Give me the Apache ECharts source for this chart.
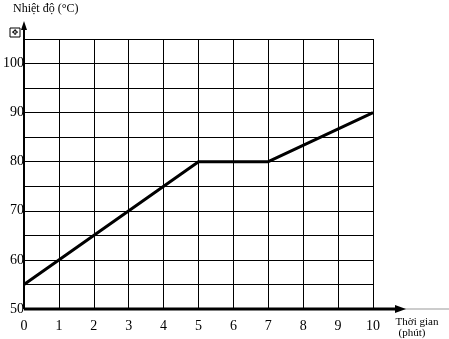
<!DOCTYPE html>
<html>
<head>
<meta charset="utf-8">
<script src="https://cdn.jsdelivr.net/npm/echarts@6/dist/echarts.min.js"></script>
<style>html,body{margin:0;padding:0;background:#fff}#c{width:449px;height:339px}</style>
</head>
<body>
<div id="c"></div>
<script>
const timeMinutes = [0, 5, 7, 10];
const temperatures = [55, 80, 80, 90];
const xTickLabels = ['0','1','2','3','4','5','6','7','8','9','10'];
const yTickLabels = ['50','60','70','80','90','100'];
const yAxisTitle = 'Nhiệt độ (°C)';
const xAxisTitle = ['Thời gian', '(phút)'];

const FONT = '"Liberation Serif", "Times New Roman", serif';
const chart = echarts.init(document.getElementById('c'), null, {renderer: 'canvas'});
const data = timeMinutes.map((t, i) => [t, temperatures[i]]);

chart.setOption({
  animation: false,
  backgroundColor: '#fff',
  grid: {left: 22, right: 76, top: 39, bottom: 30, containLabel: false},
  xAxis: {
    type: 'value', min: 0, max: 10, interval: 1,
    axisLine: {show: false}, axisTick: {show: false},
    axisLabel: {
      margin: 10, color: '#000', fontFamily: FONT, fontSize: 14,
      formatter: v => xTickLabels.includes(String(v)) ? String(v) : ''
    },
    splitLine: {show: true, lineStyle: {color: '#000', width: 1}}
  },
  yAxis: {
    type: 'value', min: 50, max: 105, interval: 5,
    axisLine: {show: false}, axisTick: {show: false},
    axisLabel: {
      margin: 0, color: '#000', fontFamily: FONT, fontSize: 14,
      formatter: v => yTickLabels.includes(String(v)) ? String(v) : ''
    },
    splitLine: {show: true, lineStyle: {color: '#000', width: 1}}
  },
  series: [{
    type: 'line', data: data, symbol: 'none',
    lineStyle: {color: '#000', width: 3}
  }]
});

const pO = chart.convertToPixel({gridIndex: 0}, [0, 50]);
const pTop = chart.convertToPixel({gridIndex: 0}, [0, 105]);
const pRight = chart.convertToPixel({gridIndex: 0}, [10, 50]);

chart.setOption({
  graphic: [
    {type: 'line', z: 100, shape: {x1: pRight[0] + 30, y1: pO[1], x2: 449, y2: pO[1]}, style: {stroke: '#999', lineWidth: 1}},
    {type: 'line', z: 100, shape: {x1: pO[0], y1: pO[1], x2: pRight[0] + 24, y2: pO[1]}, style: {stroke: '#000', lineWidth: 3}},
    {type: 'polygon', z: 100, shape: {points: [[pRight[0] + 33, pO[1]], [pRight[0] + 22, pO[1] - 4], [pRight[0] + 22, pO[1] + 4]]}, style: {fill: '#000'}},
    {type: 'line', z: 100, shape: {x1: pO[0], y1: pO[1], x2: pO[0], y2: pTop[1] - 12}, style: {stroke: '#000', lineWidth: 2}},
    {type: 'polygon', z: 100, shape: {points: [[pO[0], pTop[1] - 18], [pO[0] - 3, pTop[1] - 9], [pO[0] + 3, pTop[1] - 9]]}, style: {fill: '#000'}},
    {type: 'rect', z: 100, shape: {x: pO[0] - 14, y: pTop[1] - 11, width: 10, height: 9}, style: {fill: '#fff', stroke: '#000', lineWidth: 1}},
    {type: 'text', z: 101, style: {text: '✥', x: pO[0] - 9, y: pTop[1] - 6.5, align: 'center', verticalAlign: 'middle', font: '8px "DejaVu Sans"', fill: '#000'}},
    {type: 'text', z: 100, style: {text: yAxisTitle, x: pO[0] - 11, y: 9, verticalAlign: 'middle', font: '12px ' + FONT, fill: '#000'}},
    {type: 'text', z: 100, style: {text: xAxisTitle[0], x: pRight[0] + 44, y: pO[1] + 13, align: 'center', verticalAlign: 'middle', font: '11px ' + FONT, fill: '#000'}},
    {type: 'text', z: 100, style: {text: xAxisTitle[1], x: pRight[0] + 39, y: pO[1] + 24, align: 'center', verticalAlign: 'middle', font: '11px ' + FONT, fill: '#000'}}
  ]
});
</script>
</body>
</html>
